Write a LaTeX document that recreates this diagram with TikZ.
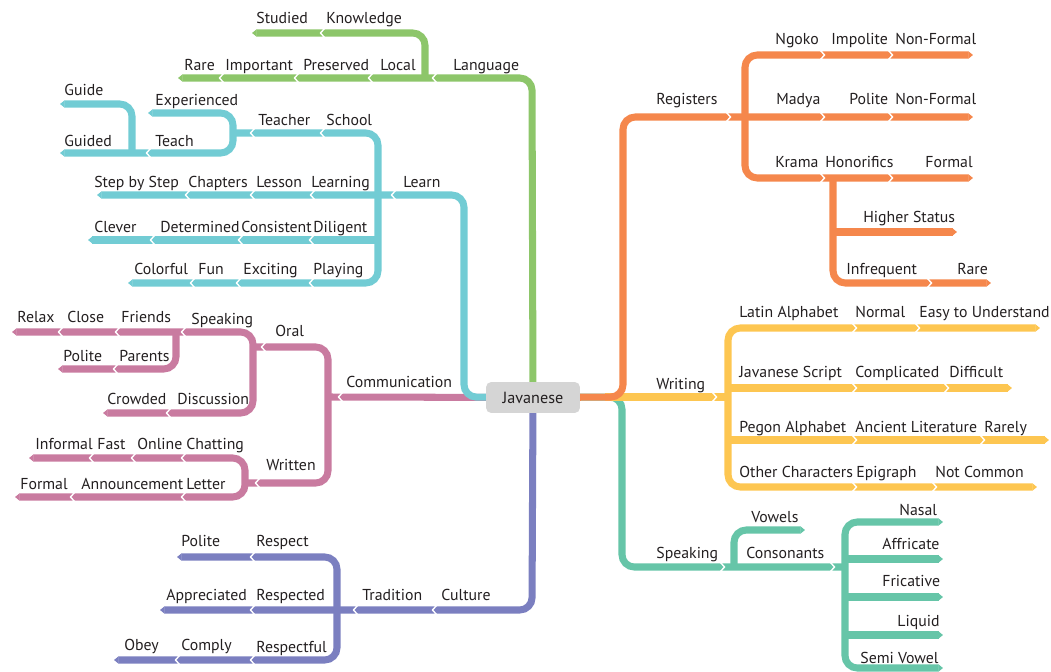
\documentclass[tikz,border=0pt]{standalone}
\usepackage{fontspec}
\setmainfont{PT Sans}
\usetikzlibrary{arrows.meta}

\definecolor{cgreen}{HTML}{8DC66A}
\definecolor{cteal}{HTML}{72CCD4}
\definecolor{cpink}{HTML}{C97BA0}
\definecolor{cpurple}{HTML}{7B7FC0}
\definecolor{corange}{HTML}{F5874C}
\definecolor{cyellow}{HTML}{FDC651}
\definecolor{csea}{HTML}{66C5A8}
\definecolor{boxgray}{HTML}{D5D5D5}
\definecolor{txt}{HTML}{231F20}

% white notch between two bar pieces
\newcommand{\chev}[3]{\draw[white, line width=0.8pt] ({#1-2.5*(#3)},{#2-4.5}) -- ({#1+1.5*(#3)},#2) -- ({#1-2.5*(#3)},{#2+4.5});}

\begin{document}
\begin{tikzpicture}[x=0.02cm, y=-0.02cm,
  bar/.style={line width=4pt, rounded corners=7pt},
  lab/.style={anchor=west, inner sep=0pt, yshift=-0.04cm, text height=6.5pt, text depth=1.8pt, font=\fontsize{9}{10}\selectfont, text=txt},
  hub/.style={fill=boxgray, rounded corners=3pt, minimum width=1.88cm, minimum height=0.62cm, inner sep=0pt, font=\fontsize{9.2}{10}\selectfont, text=txt},
  >={Triangle[length=2.6pt,width=4pt]}]
\useasboundingbox (0,0) rectangle (1051,672);

\path (533,397.5) coordinate (c);

% language
\draw[bar, cgreen, ->] (533,397) -- (532,78) -- (178,78);
\draw[bar, cgreen, ->] (425,78) -- (425,33) -- (252,33);

% communication
\draw[bar, cpink] (c) -- (328,397);
\draw[bar, cpink] (253,347) -- (328,347) -- (328,483) -- (245,483);
\draw[bar, cpink, <->] (12,332) -- (253,332) -- (253,413) -- (103,413);
\draw[bar, cpink, ->] (176,332) -- (176,369) -- (58,369);
\draw[bar, cpink, <->] (29,458) -- (245,458) -- (245,497) -- (15,497);

% learn
\draw[bar, cteal, ->] (c) -- (464,397) -- (464,195) -- (97,195);
\draw[bar, cteal, ->] (233,133) -- (378,133) -- (378,283) -- (128,283);
\draw[bar, cteal, ->] (378,240) -- (88,240);
\draw[bar, cteal, <->] (148,113) -- (233,113) -- (233,153) -- (60,153);
\draw[bar, cteal, ->] (132,153) -- (132,104) -- (60,104);

% culture
\draw[bar, cpurple, ->] (c) -- (532,610) -- (160,610);
\draw[bar, cpurple, <->] (177,557) -- (337,557) -- (337,660) -- (114,660);

% speaking
\draw[bar, csea] (c) -- (622,397) -- (622,567) -- (845,567);
\draw[bar, csea, <->] (943,522) -- (845,522) -- (845,668) -- (943,668);
\draw[bar, csea, ->] (734,567) -- (734,530) -- (805,530);
\foreach \y in {559,597,635} \draw[bar, csea, ->] (845,\y) -- (943,\y);

% writing
\draw[bar, cyellow] (605,397) -- (728,397);
\draw[bar, cyellow, <->] (1040,328) -- (728,328) -- (728,487) -- (1037,487);
\draw[bar, cyellow, ->] (728,388) -- (1012,388);
\draw[bar, cyellow, ->] (728,440) -- (1049,440);

% registers
\draw[bar, corange, ->] (c) -- (623,397) -- (623,117) -- (973,117);
\draw[bar, corange, <->] (973,55) -- (745,55) -- (745,178) -- (973,178);
\draw[bar, corange, ->] (833,178) -- (833,283) -- (991,283);
\draw[bar, corange, ->] (833,232) -- (957,232);

% notches
\foreach \x in {434,370,296,221} \chev{\x}{78}{-1};
\chev{322}{33}{-1};
\foreach \x in {393,312,252,187} \chev{\x}{195}{-1};
\foreach \x in {322,252} \chev{\x}{133}{-1};
\foreach \x in {311,240,152} \chev{\x}{240}{-1};
\foreach \x in {311,238,192} \chev{\x}{283}{-1};
\chev{148}{153}{-1};
\chev{340}{397}{-1}; \chev{263}{347}{-1}; \chev{257}{483}{-1};
\foreach \x in {183,117,60} \chev{\x}{332}{-1};
\chev{168}{413}{-1}; \chev{115}{369}{-1};
\foreach \x in {183,133,91} \chev{\x}{458}{-1};
\foreach \x in {183,72} \chev{\x}{497}{-1};
\foreach \x in {434,355,252} \chev{\x}{610}{-1};
\chev{252}{557}{-1};
\foreach \x in {252,177} \chev{\x}{660}{-1};
\foreach \x in {729,823,891} \chev{\x}{117}{1};
\foreach \y in {55,178} {\chev{823}{\y}{1} \chev{891}{\y}{1}}
\chev{930}{283}{1};
\chev{715}{397}{1};
\foreach \x in {855,918} \chev{\x}{328}{1};
\foreach \x in {855,947} \chev{\x}{388}{1};
\foreach \x in {855,983} \chev{\x}{440}{1};
\foreach \x in {855,935} \chev{\x}{487}{1};
\foreach \x in {723,833} \chev{\x}{567}{1};

\node[hub] (jav) at (c) {Javanese};

% green labels
\node[lab] (studied) at (256,17) {Studied};
\node[lab] (knowledge) at (326,17) {Knowledge};
\node[lab] (rare) at (184,64) {Rare};
\node[lab] (important) at (225,64) {Important};
\node[lab] (preserved) at (303,64) {Preserved};
\node[lab] (local) at (380,64) {Local};
\node[lab] (language) at (453,64) {Language};

% teal labels
\node[lab] (guide) at (64,89) {Guide};
\node[lab] (guided) at (64,140) {Guided};
\node[lab] (experienced) at (155,99) {Experienced};
\node[lab] (teach) at (155,140) {Teach};
\node[lab] (teacher) at (258,119) {Teacher};
\node[lab] (school) at (326,119) {School};
\node[lab] (stepbystep) at (94,181) {Step by Step};
\node[lab] (chapters) at (188,181) {Chapters};
\node[lab] (lesson) at (256,181) {Lesson};
\node[lab] (learning) at (311,181) {Learning};
\node[lab] (learn) at (403,181) {Learn};
\node[lab] (clever) at (94,226) {Clever};
\node[lab] (determined) at (160,226) {Determined};
\node[lab] (consistent) at (241,226) {Consistent};
\node[lab] (diligent) at (313,226) {Diligent};
\node[lab] (colorful) at (134,268) {Colorful};
\node[lab] (fun) at (198,268) {Fun};
\node[lab] (exciting) at (243,268) {Exciting};
\node[lab] (playing) at (313,268) {Playing};

% pink labels
\node[lab] (relax) at (17,316) {Relax};
\node[lab] (close) at (67,316) {Close};
\node[lab] (friends) at (121,316) {Friends};
\node[lab] (oralspeak) at (191,318) {Speaking};
\node[lab] (oral) at (275,330) {Oral};
\node[lab] (politep) at (63,355) {Polite};
\node[lab] (parents) at (119,355) {Parents};
\node[lab] (crowded) at (107,398) {Crowded};
\node[lab] (discussion) at (177,398) {Discussion};
\node[lab] (communication) at (346,381) {Communication};
\node[lab] (informal) at (35,443) {Informal};
\node[lab] (fast) at (97,443) {Fast};
\node[lab] (online) at (137,443) {Online};
\node[lab] (chatting) at (186,443) {Chatting};
\node[lab] (written) at (266,464) {Written};
\node[lab] (formal) at (20,483) {Formal};
\node[lab] (announcement) at (81,483) {Announcement};
\node[lab] (letter) at (186,483) {Letter};

% purple labels
\node[lab] (politer) at (181,540) {Polite};
\node[lab] (respect) at (256,540) {Respect};
\node[lab] (appreciated) at (166,594) {Appreciated};
\node[lab] (respected) at (256,594) {Respected};
\node[lab] (tradition) at (362,594) {Tradition};
\node[lab] (culture) at (441,594) {Culture};
\node[lab] (obey) at (124,644) {Obey};
\node[lab] (comply) at (181,644) {Comply};
\node[lab] (respectful) at (256,646) {Respectful};

% orange labels
\node[lab] (registers) at (656,98) {Registers};
\node[lab] (ngoko) at (775,38) {Ngoko};
\node[lab] (impolite) at (831,38) {Impolite};
\node[lab] (nonformala) at (895,38) {Non-Formal};
\node[lab] (madya) at (776,98) {Madya};
\node[lab] (politem) at (849,98) {Polite};
\node[lab] (nonformalb) at (895,98) {Non-Formal};
\node[lab] (krama) at (775,161) {Krama};
\node[lab] (honorifics) at (825,161) {Honorifics};
\node[lab] (formalk) at (925,161) {Formal};
\node[lab] (higher) at (863,216) {Higher Status};
\node[lab] (infrequent) at (846,268) {Infrequent};
\node[lab] (rarek) at (957,268) {Rare};

% yellow labels
\node[lab] (writing) at (656,383) {Writing};
\node[lab] (latin) at (739,311) {Latin Alphabet};
\node[lab] (normal) at (855,311) {Normal};
\node[lab] (easy) at (919,311) {Easy to Understand};
\node[lab] (jscript) at (739,371) {Javanese Script};
\node[lab] (complicated) at (855,371) {Complicated};
\node[lab] (difficult) at (949,371) {Difficult};
\node[lab] (pegon) at (739,426) {Pegon Alphabet};
\node[lab] (ancient) at (855,426) {Ancient Literature};
\node[lab] (rarely) at (984,426) {Rarely};
\node[lab] (other) at (739,471) {Other Characters};
\node[lab] (epigraph) at (856,471) {Epigraph};
\node[lab] (notcommon) at (935,471) {Not Common};

% sea labels
\node[lab] (speaking) at (656,552) {Speaking};
\node[lab] (vowels) at (751,516) {Vowels};
\node[lab] (consonants) at (746,552) {Consonants};
\node[lab] (nasal) at (899,509) {Nasal};
\node[lab] (affricate) at (882,543) {Affricate};
\node[lab] (fricative) at (882,580) {Fricative};
\node[lab] (liquid) at (897,620) {Liquid};
\node[lab] (semivowel) at (860,657) {Semi Vowel};
\end{tikzpicture}
\end{document}
